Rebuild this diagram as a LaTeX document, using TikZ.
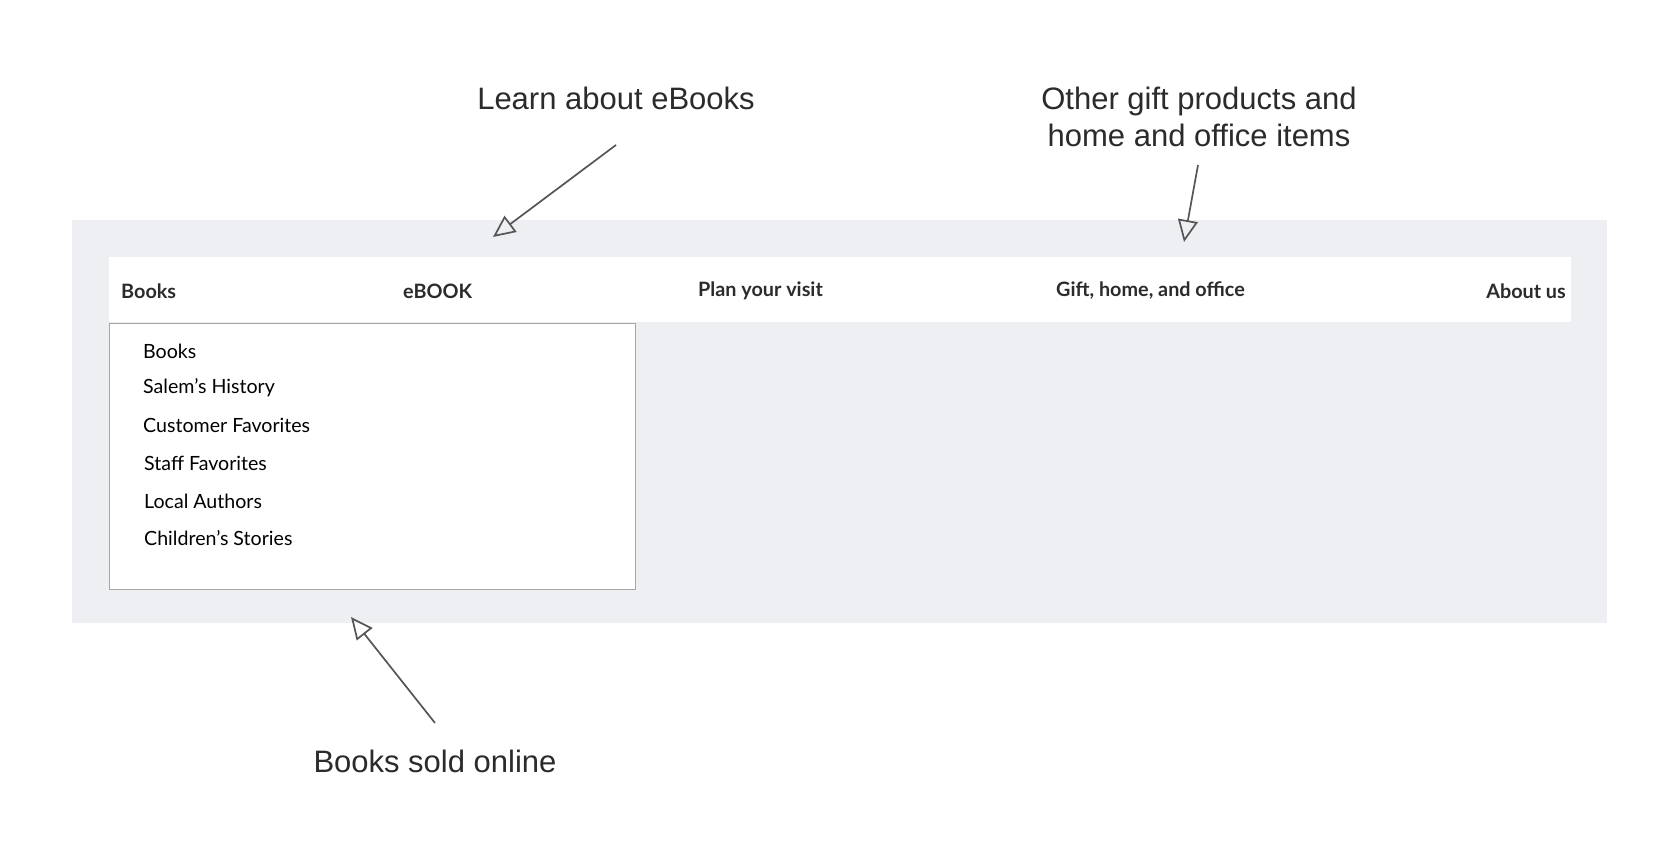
\documentclass[tikz,border=0pt]{standalone}
\usepackage{fontspec}
\setmainfont{Liberation Sans}
\newfontfamily\menufont{Lato}
\usetikzlibrary{arrows.meta}
\definecolor{panel}{HTML}{EEEFF3}
\definecolor{txt}{HTML}{2B2B2B}
\definecolor{arr}{HTML}{555555}
\tikzset{
  menu/.style={font=\menufont\bfseries\fontsize{19.8}{23}\selectfont, text=txt, inner sep=0pt},
  item/.style={font=\menufont\fontsize{19.6}{23}\selectfont, text=black, inner sep=0pt, anchor=west},
  note/.style={font=\fontsize{31}{37}\selectfont, text=txt, align=center, inner sep=0pt},
  callout/.style={draw=arr, line width=1.7pt, -{Triangle[open, length=22pt, width=20pt, line width=1.7pt]}}
}
\begin{document}
\begin{tikzpicture}[x=1pt,y=1pt]
\useasboundingbox (0,0) rectangle (1680,845);
\fill[white] (0,0) rectangle (1680,845);
\fill[panel] (72,625) rectangle (1607,222);
\fill[white] (109,588) rectangle (1571,523);
\draw[gray!70, fill=white, line width=0.8pt] (109,522) rectangle (635,256);
\node[menu, anchor=west] (m1) at (121,554) {Books};
\node[menu, anchor=west] (m2) at (403,554) {eBOOK};
\node[menu, anchor=west] (m3) at (698,554) {Plan your visit};
\node[menu, anchor=west] (m4) at (1056,554) {Gift, home, and office};
\node[menu, anchor=east] (m5) at (1566,554) {About us};
\node[item] (i1) at (143,494) {Books};
\node[item] (i2) at (143,457) {Salem’s History};
\node[item] (i3) at (143,420) {Customer Favorites};
\node[item] (i4) at (144,382) {Staff Favorites};
\node[item] (i5) at (144,344) {Local Authors};
\node[item] (i6) at (144,307) {Children’s Stories};
\node[note] (n1) at (616,747) {Learn about eBooks};
\node[note] (n2) at (1199,728) {Other gift products and\\home and office items};
\node[note] (n3) at (435,84) {Books sold online};
\coordinate (s1) at (616,700); \coordinate (t1) at (493,608);
\coordinate (s2) at (1198,680); \coordinate (t2) at (1184,603);
\coordinate (s3) at (435,122); \coordinate (t3) at (351,228);
\draw[callout] (s1) -- (t1);
\draw[callout] (s2) -- (t2);
\draw[callout] (s3) -- (t3);
\end{tikzpicture}
\end{document}
